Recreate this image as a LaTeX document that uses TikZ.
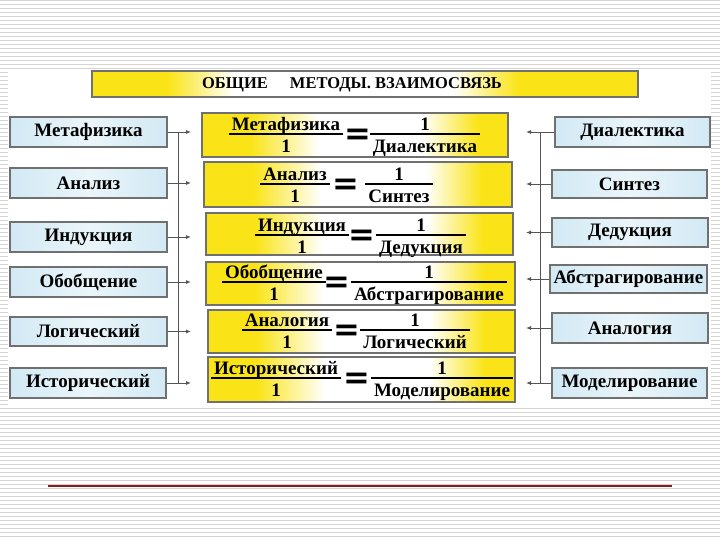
\documentclass[tikz,border=0pt]{standalone}
\usepackage{fontspec}
\setmainfont{Liberation Serif}
\newfontfamily\eqfont{DejaVu Sans}
\usetikzlibrary{arrows.meta,shadows}
\definecolor{yel}{RGB}{250,228,24}
\definecolor{lblue}{RGB}{210,233,244}
\definecolor{lblueb}{RGB}{234,245,250}
\definecolor{bord}{RGB}{112,112,112}
\definecolor{stripec}{RGB}{212,212,212}
\definecolor{redl}{RGB}{140,28,28}
\definecolor{connc}{RGB}{85,85,85}
\pgfdeclarehorizontalshading{ywy}{100bp}{color(0bp)=(yel); color(33bp)=(yel); color(44bp)=(white); color(61bp)=(white); color(70bp)=(yel); color(100bp)=(yel)}
\pgfdeclarehorizontalshading{titlesh}{100bp}{color(0bp)=(yel); color(32bp)=(yel); color(38bp)=(white); color(58bp)=(white); color(64bp)=(yel); color(100bp)=(yel)}
\pgfdeclarehorizontalshading{bsh}{100bp}{color(0bp)=(lblue); color(25bp)=(lblue); color(50bp)=(lblueb); color(75bp)=(lblue); color(100bp)=(lblue)}
\newcommand\frc[2]{{\setlength\arrayrulewidth{1.6pt}\begin{tabular}{@{\hspace{3pt}}c@{\hspace{3pt}}}#1\\[-3pt]\hline\rule{0pt}{18pt}#2\end{tabular}}}
\newcommand\eqs{{\eqfont\bfseries\fontsize{32}{32}\selectfont =}}
\tikzset{
  bigtxt/.style={font=\bfseries\fontsize{19}{20}\selectfont},
  side/.style={draw=bord, line width=1.1pt, shade, shading=bsh, inner sep=0pt,
    drop shadow={shadow xshift=1.2pt, shadow yshift=-1.2pt, fill=black!50, opacity=0.6},
    bigtxt},
  ybox/.style={draw=bord, line width=1.1pt, shade, shading=ywy, inner sep=0pt,
    drop shadow={shadow xshift=1.2pt, shadow yshift=-1.2pt, fill=black!50, opacity=0.6}},
  fracn/.style={bigtxt, inner sep=0pt},
  eqn/.style={inner sep=0pt},
  conn/.style={draw=connc, line width=0.9pt},
  arr/.style={conn, -{Latex[length=5pt,width=4pt]}},
  stripe/.style={draw=stripec, line width=1.2pt}
}
\begin{document}
\begin{tikzpicture}[x=1pt,y=-1pt]
\useasboundingbox (0,0) rectangle (720,540);
\foreach \k in {0,...,134} \draw[stripe] (0,4*\k+0.5) -- (720,4*\k+0.5);
\fill[white] (8,70) rectangle (711,408);
% title
\node[draw=bord, line width=1.1pt, shade, shading=titlesh, minimum width=546pt, minimum height=26pt, inner sep=0pt,
  drop shadow={shadow xshift=1.2pt, shadow yshift=-1.2pt, fill=black!50, opacity=0.6}] (title) at (365,84) {};
\node[font=\bfseries\fontsize{16.5}{18}\selectfont, inner sep=0pt] (titletxt) at (352,85) {ОБЩИЕ\hspace{18pt} МЕТОДЫ. ВЗАИМОСВЯЗЬ};
% left boxes
\node[side, minimum width=157pt, minimum height=30pt] (L1) at (88.5,132) {Метафизика};
\node[side, minimum width=157pt, minimum height=30pt] (L2) at (88.5,183) {Анализ};
\node[side, minimum width=157pt, minimum height=30pt] (L3) at (88.5,237) {Индукция};
\node[side, minimum width=157pt, minimum height=30pt] (L4) at (88.5,282) {Обобщение};
\node[side, minimum width=157pt, minimum height=29pt] (L5) at (88.5,331.5) {Логический};
\node[side, minimum width=156pt, minimum height=30pt] (L6) at (88,383) {Исторический};
% right boxes
\node[side, minimum width=155pt, minimum height=30pt] (R1) at (632.5,132) {Диалектика};
\node[side, minimum width=155pt, minimum height=28pt] (R2) at (629.5,184) {Синтез};
\node[side, minimum width=156pt, minimum height=29pt] (R3) at (630,232.5) {Дедукция};
\node[side, minimum width=157pt, minimum height=28pt] (R4) at (628.5,279) {Абстрагирование};
\node[side, minimum width=156pt, minimum height=30pt] (R5) at (630,328) {Аналогия};
\node[side, minimum width=155pt, minimum height=30pt] (R6) at (629.5,383) {Моделирование};
% yellow boxes
\node[ybox, minimum width=306pt, minimum height=44pt] (Y1) at (355,135) {};
\node[ybox, minimum width=308pt, minimum height=45pt] (Y2) at (358,184.5) {};
\node[ybox, minimum width=307pt, minimum height=42pt] (Y3) at (359.5,234) {};
\node[ybox, minimum width=309pt, minimum height=43pt] (Y4) at (360.5,283.5) {};
\node[ybox, minimum width=307pt, minimum height=43pt] (Y5) at (361.5,331.5) {};
\node[ybox, minimum width=307pt, minimum height=45pt] (Y6) at (361.5,379.5) {};
% formulas
\node[fracn] (a1) at (286,137.5) {\frc{Метафизика}{1}};
\node[eqn]   (e1) at (358,136.5) {\eqs};
\node[fracn] (b1) at (425,137.5) {\frc{1}{Диалектика}};
\node[fracn] (a2) at (295,187.5) {\frc{Анализ}{1}};
\node[eqn]   (e2) at (346,186.5) {\eqs};
\node[fracn] (b2) at (399,187.5) {\frc{1}{Синтез}};
\node[fracn] (a3) at (302,238.5) {\frc{Индукция}{1}};
\node[eqn]   (e3) at (362,237.5) {\eqs};
\node[fracn] (b3) at (421,238.5) {\frc{1}{Дедукция}};
\node[fracn] (a4) at (274,285.5) {\frc{Обобщение}{1}};
\node[eqn]   (e4) at (337,284.5) {\eqs};
\node[fracn] (b4) at (429,285.5) {\frc{1}{Абстрагирование}};
\node[fracn] (a5) at (287,333.5) {\frc{Аналогия}{1}};
\node[eqn]   (e5) at (347,332.5) {\eqs};
\node[fracn] (b5) at (415,333.5) {\frc{1}{Логический}};
\node[fracn] (a6) at (276,381.5) {\frc{Исторический}{1}};
\node[eqn]   (e6) at (357,380.5) {\eqs};
\node[fracn] (b6) at (442,381.5) {\frc{1}{Моделирование}};
% connectors
\coordinate (tipL) at (191,0);
\coordinate (tipR) at (526,0);
\coordinate (busLt) at (178,132);
\coordinate (busLb) at (178,384);
\coordinate (busRt) at (540,132);
\coordinate (busRb) at (540,384);
\draw[conn] (busLt) -- (busLb);
\draw[conn] (busRt) -- (busRb);
\foreach \i in {1,...,6}{
  \draw[arr] (L\i.east) -- (L\i.east -| tipL);
  \draw[arr] (R\i.west) -- (R\i.west -| tipR);
}
% red line
\coordinate (rl1) at (48,486);
\coordinate (rl2) at (672,486);
\draw[draw=redl, line width=1.4pt] (rl1) -- (rl2);
\end{tikzpicture}
\end{document}
